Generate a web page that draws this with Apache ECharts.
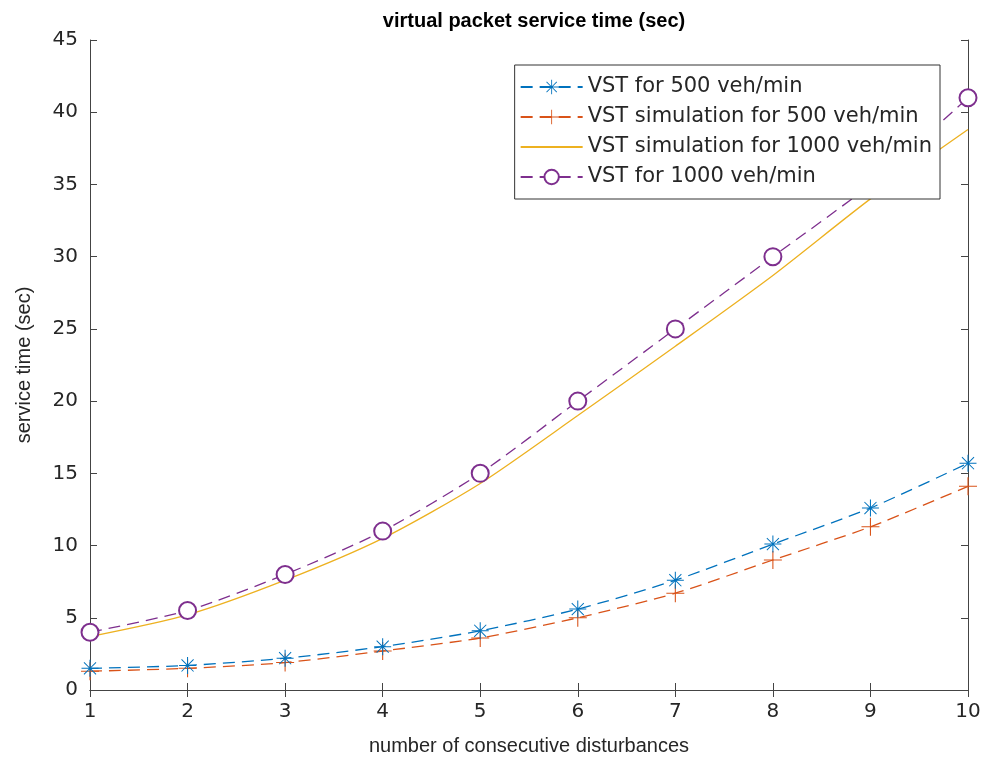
<!DOCTYPE html>
<html>
<head>
<meta charset="utf-8">
<script src="https://cdn.jsdelivr.net/npm/echarts@6/dist/echarts.min.js"></script>
<style>
  html, body { margin: 0; padding: 0; background: #fff; }
  #chart { width: 988px; height: 774px; }
</style>
</head>
<body>
<div id="chart"></div>
<script>
// x values (number of consecutive disturbances)
var disturbances = [1, 2, 3, 4, 5, 6, 7, 8, 9, 10];
var vst500 = [1.5, 1.7, 2.2, 3.0, 4.1, 5.6, 7.6, 10.1, 12.6, 15.7];
var sim500 = [1.3, 1.5, 1.9, 2.7, 3.6, 5.0, 6.7, 9.0, 11.3, 14.1];
var sim1000 = [3.7, 5.2, 7.6, 10.5, 14.3, 19.0, 23.8, 28.7, 34.0, 38.8];
var vst1000 = [4.0, 5.5, 8.0, 11.0, 15.0, 20.0, 25.0, 30.0, 35.0, 41.0];
var seriesNames = [
  'VST for 500 veh/min',
  'VST simulation for 500 veh/min',
  'VST simulation for 1000 veh/min',
  'VST for 1000 veh/min'
];

function pairs(ys) {
  return disturbances.map(function (x, i) { return [x, ys[i]]; });
}

// marker shapes like matlab '+' and '*'
var plusPath = 'path://M-0.6,-10L0.6,-10L0.6,-0.6L10,-0.6L10,0.6L0.6,0.6L0.6,10L-0.6,10L-0.6,0.6L-10,0.6L-10,-0.6L-0.6,-0.6Z';
var starPath = 'path://M-0.6,-10L0.6,-10L0.6,-0.6L10,-0.6L10,0.6L0.6,0.6L0.6,10L-0.6,10L-0.6,0.6L-10,0.6L-10,-0.6L-0.6,-0.6Z' +
  'M-7.5,-6.7L-6.7,-7.5L0,-0.8L6.7,-7.5L7.5,-6.7L0.8,0L7.5,6.7L6.7,7.5L0,0.8L-6.7,7.5L-7.5,6.7L-0.8,0Z';

var font = 'Liberation Sans';
var wideFont = 'DejaVu Sans';
var textColor = '#262626';
var axisColor = '#444';

var chart = echarts.init(document.getElementById('chart'));

var option = {
  animation: false,
  backgroundColor: '#fff',
  title: {
    text: 'virtual packet service time (sec)',
    left: 529,
    textAlign: 'center',
    top: 6,
    textStyle: { fontFamily: font, fontSize: 20, fontWeight: 'bold', color: '#000' }
  },
  legend: {
    right: 48,
    top: 65,
    orient: 'vertical',
    backgroundColor: '#fff',
    borderColor: '#333',
    borderWidth: 1,
    borderRadius: 0,
    padding: [9, 8, 9, 5],
    itemGap: 4,
    itemWidth: 62,
    itemHeight: 18,
    textStyle: { fontFamily: wideFont, fontSize: 21, lineHeight: 26, color: textColor, padding: [0, 0, 0, 0] },
    data: [
      { name: seriesNames[0] },
      { name: seriesNames[1] },
      { name: seriesNames[2], itemStyle: { opacity: 0 } },
      { name: seriesNames[3] }
    ]
  },
  grid: { left: 90, right: 20, top: 40, bottom: 84 },
  xAxis: [{
    type: 'value',
    min: 1, max: 10, interval: 1,
    name: 'number of consecutive disturbances',
    nameLocation: 'middle',
    nameGap: 46,
    nameTextStyle: { fontFamily: font, fontSize: 20, color: textColor },
    axisLine: { show: true, lineStyle: { color: axisColor, width: 1 } },
    axisTick: { inside: true, length: 7, lineStyle: { color: axisColor } },
    axisLabel: { fontFamily: wideFont, fontSize: 20, color: textColor, margin: 12 },
    splitLine: { show: false }
  }, {
    type: 'value',
    position: 'top',
    min: 1, max: 10, interval: 1,
    axisLine: { show: true, lineStyle: { color: axisColor, width: 1 } },
    axisTick: { inside: true, length: 7, lineStyle: { color: axisColor } },
    axisLabel: { show: false },
    splitLine: { show: false }
  }],
  yAxis: [{
    type: 'value',
    min: 0, max: 45, interval: 5,
    name: 'service time (sec)',
    nameLocation: 'middle',
    nameGap: 56,
    nameTextStyle: { fontFamily: font, fontSize: 20, color: textColor },
    axisLine: { show: true, lineStyle: { color: axisColor, width: 1 } },
    axisTick: { show: true, inside: true, length: 7, lineStyle: { color: axisColor } },
    axisLabel: { fontFamily: wideFont, fontSize: 20, color: textColor, margin: 12 },
    splitLine: { show: false }
  }, {
    type: 'value',
    position: 'right',
    min: 0, max: 45, interval: 5,
    axisLine: { show: true, lineStyle: { color: axisColor, width: 1 } },
    axisTick: { show: true, inside: true, length: 7, lineStyle: { color: axisColor } },
    axisLabel: { show: false },
    splitLine: { show: false }
  }],
  series: [
    {
      name: seriesNames[0],
      type: 'line',
      data: pairs(vst500),
      smooth: 0.25,
      symbol: starPath,
      symbolSize: 17,
      itemStyle: { color: '#0072BD' },
      lineStyle: { color: '#0072BD', width: 1.3, type: [12, 7] },
      z: 3
    },
    {
      name: seriesNames[1],
      type: 'line',
      data: pairs(sim500),
      smooth: 0.25,
      symbol: plusPath,
      symbolSize: 18,
      itemStyle: { color: '#D95319' },
      lineStyle: { color: '#D95319', width: 1.3, type: [12, 7] },
      z: 2
    },
    {
      name: seriesNames[2],
      type: 'line',
      data: pairs(sim1000),
      smooth: 0.25,
      symbol: 'none',
      itemStyle: { color: '#EDB120' },
      lineStyle: { color: '#EDB120', width: 1.3 },
      z: 2
    },
    {
      name: seriesNames[3],
      type: 'line',
      data: pairs(vst1000),
      smooth: 0.25,
      symbol: 'emptyCircle',
      symbolSize: 17,
      itemStyle: { color: '#7E2F8E', borderWidth: 1.2 },
      lineStyle: { color: '#7E2F8E', width: 1.3, type: [12, 7] },
      z: 3
    }
  ]
};

chart.setOption(option);
</script>
</body>
</html>
